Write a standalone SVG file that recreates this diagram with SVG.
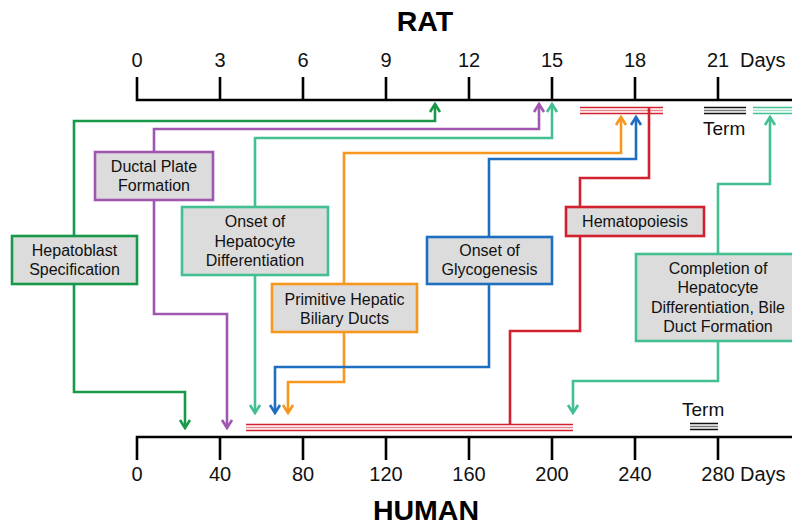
<svg xmlns="http://www.w3.org/2000/svg" width="792" height="531" viewBox="0 0 792 531">
<style>
.ax{stroke:#000;stroke-width:2.6;fill:none}
.lbl{font-family:"Liberation Sans",Arial,sans-serif;font-size:20px;fill:#111;text-anchor:middle}
.lbll{font-family:"Liberation Sans",Arial,sans-serif;font-size:20px;fill:#111}
.term{font-family:"Liberation Sans",Arial,sans-serif;font-size:19px;fill:#111}
.ttl{font-family:"Liberation Sans",Arial,sans-serif;font-size:28.5px;font-weight:bold;fill:#000;text-anchor:middle}
.box{fill:#dcdcdc;stroke-width:2.6}
.bt{font-family:"Liberation Sans",Arial,sans-serif;font-size:16px;fill:#111;text-anchor:middle}
.c{fill:none;stroke-width:2.6;stroke-linejoin:miter}
.g{stroke:#18994a}.p{stroke:#a057b0}.t{stroke:#42c091}.o{stroke:#f7971e}.b{stroke:#1f6fc0}.r{stroke:#d1202f}
.tl{stroke-width:1.6;fill:none}
</style>
<defs>
<marker id="mg" markerUnits="userSpaceOnUse" viewBox="-10 -7 12 14" markerWidth="12" markerHeight="14" refX="0" refY="0" orient="auto"><path d="M-8,-5 L0,0 L-8,5" fill="none" stroke="#18994a" stroke-width="2.6"/></marker>
<marker id="mp" markerUnits="userSpaceOnUse" viewBox="-10 -7 12 14" markerWidth="12" markerHeight="14" refX="0" refY="0" orient="auto"><path d="M-8,-5 L0,0 L-8,5" fill="none" stroke="#a057b0" stroke-width="2.6"/></marker>
<marker id="mt" markerUnits="userSpaceOnUse" viewBox="-10 -7 12 14" markerWidth="12" markerHeight="14" refX="0" refY="0" orient="auto"><path d="M-8,-5 L0,0 L-8,5" fill="none" stroke="#42c091" stroke-width="2.6"/></marker>
<marker id="mo" markerUnits="userSpaceOnUse" viewBox="-10 -7 12 14" markerWidth="12" markerHeight="14" refX="0" refY="0" orient="auto"><path d="M-8,-5 L0,0 L-8,5" fill="none" stroke="#f7971e" stroke-width="2.6"/></marker>
<marker id="mb" markerUnits="userSpaceOnUse" viewBox="-10 -7 12 14" markerWidth="12" markerHeight="14" refX="0" refY="0" orient="auto"><path d="M-8,-5 L0,0 L-8,5" fill="none" stroke="#1f6fc0" stroke-width="2.6"/></marker>
</defs>
<rect width="792" height="531" fill="#fff"/>

<g id="rat-axis">
<text class="ttl" x="425" y="31">RAT</text>
<path class="ax" d="M137,77 V100 H792 M220,77 V100 M303,77 V100 M386,77 V100 M469,77 V100 M552,77 V100 M635,77 V100 M718,77 V100"/>
<text class="lbl" x="137" y="67">0</text>
<text class="lbl" x="220" y="67">3</text>
<text class="lbl" x="303" y="67">6</text>
<text class="lbl" x="386" y="67">9</text>
<text class="lbl" x="469" y="67">12</text>
<text class="lbl" x="552" y="67">15</text>
<text class="lbl" x="635" y="67">18</text>
<text class="lbl" x="718" y="67">21</text>
<text class="lbll" x="740" y="67">Days</text>
<g class="tl" stroke="#d1202f"><path d="M580,107.5 H663 M580,113.5 H663"/><path d="M580,110.5 H663" stroke="#e88890"/></g>
<g class="tl" stroke="#111"><path d="M704,107.5 H746 M704,113.5 H746"/><path d="M704,110.5 H746" stroke="#777"/></g>
<g class="tl" stroke="#42c091"><path d="M753,107.5 H792 M753,113.5 H792"/><path d="M753,110.5 H792" stroke="#a6e2cb"/></g>
<text class="term" x="703" y="135">Term</text>
</g>

<g id="human-axis">
<text class="ttl" x="426" y="520">HUMAN</text>
<path class="ax" d="M137,460 V437 H792 M220,460 V437 M303,460 V437 M386,460 V437 M469,460 V437 M552,460 V437 M635,460 V437 M718,460 V437"/>
<text class="lbl" x="137" y="481">0</text>
<text class="lbl" x="220" y="481">40</text>
<text class="lbl" x="303" y="481">80</text>
<text class="lbl" x="386" y="481">120</text>
<text class="lbl" x="469" y="481">160</text>
<text class="lbl" x="552" y="481">200</text>
<text class="lbl" x="635" y="481">240</text>
<text class="lbl" x="718" y="481">280</text>
<text class="lbll" x="740" y="481">Days</text>
<g class="tl" stroke="#d1202f"><path d="M246,424.5 H573 M246,430.5 H573"/><path d="M246,427.5 H573" stroke="#e88890"/></g>
<g class="tl" stroke="#111"><path d="M690,423.5 H718 M690,429.5 H718"/><path d="M690,426.5 H718" stroke="#777"/></g>
<text class="term" x="682" y="416">Term</text>
</g>

<g id="connectors">
<path class="c g" d="M74,236 V121 H435 V104" marker-end="url(#mg)"/>
<path class="c g" d="M74,284 V392 H185 V428" marker-end="url(#mg)"/>
<path class="c p" d="M154,152 V129 H539 V104" marker-end="url(#mp)"/>
<path class="c p" d="M154,200 V314 H227 V428" marker-end="url(#mp)"/>
<path class="c t" d="M255,207 V138 H552 V104" marker-end="url(#mt)"/>
<path class="c t" d="M255,275 V413" marker-end="url(#mt)"/>
<path class="c o" d="M344,284 V153 H621 V117" marker-end="url(#mo)"/>
<path class="c o" d="M344,332 V382 H288 V413" marker-end="url(#mo)"/>
<path class="c b" d="M489,237 V159 H636 V117" marker-end="url(#mb)"/>
<path class="c b" d="M489,284 V367 H275 V413" marker-end="url(#mb)"/>
<path class="c r" d="M580,207 V178 H649 V107"/>
<path class="c r" d="M580,236 V331 H510 V425"/>
<path class="c t" d="M718,254 V184 H770 V117" marker-end="url(#mt)"/>
<path class="c t" d="M718,341 V381 H573 V413" marker-end="url(#mt)"/>
</g>

<g id="hepatoblast">
<rect class="box g" x="12" y="236" width="125" height="48"/>
<text class="bt" x="74.5" y="255.5">Hepatoblast</text>
<text class="bt" x="74.5" y="274.5">Specification</text>
</g>
<g id="ductal-plate">
<rect class="box p" x="95" y="152" width="118" height="48"/>
<text class="bt" x="154" y="172">Ductal Plate</text>
<text class="bt" x="154" y="191">Formation</text>
</g>
<g id="onset-hepatocyte">
<rect class="box t" x="182" y="207" width="146" height="68"/>
<text class="bt" x="255" y="227">Onset of</text>
<text class="bt" x="255" y="246.5">Hepatocyte</text>
<text class="bt" x="255" y="266">Differentiation</text>
</g>
<g id="primitive-ducts">
<rect class="box o" x="272" y="284" width="145" height="48"/>
<text class="bt" x="344.5" y="305">Primitive Hepatic</text>
<text class="bt" x="344.5" y="324">Biliary Ducts</text>
</g>
<g id="glycogenesis">
<rect class="box b" x="427" y="237" width="125" height="47"/>
<text class="bt" x="489.5" y="256">Onset of</text>
<text class="bt" x="489.5" y="275">Glycogenesis</text>
</g>
<g id="hematopoiesis">
<rect class="box r" x="566" y="207" width="138" height="29"/>
<text class="bt" x="635" y="227">Hematopoiesis</text>
</g>
<g id="completion">
<rect class="box t" x="636" y="254" width="164" height="87"/>
<text class="bt" x="718" y="274">Completion of</text>
<text class="bt" x="718" y="293">Hepatocyte</text>
<text class="bt" x="718" y="312.5">Differentiation, Bile</text>
<text class="bt" x="718" y="332">Duct Formation</text>
</g>
</svg>
